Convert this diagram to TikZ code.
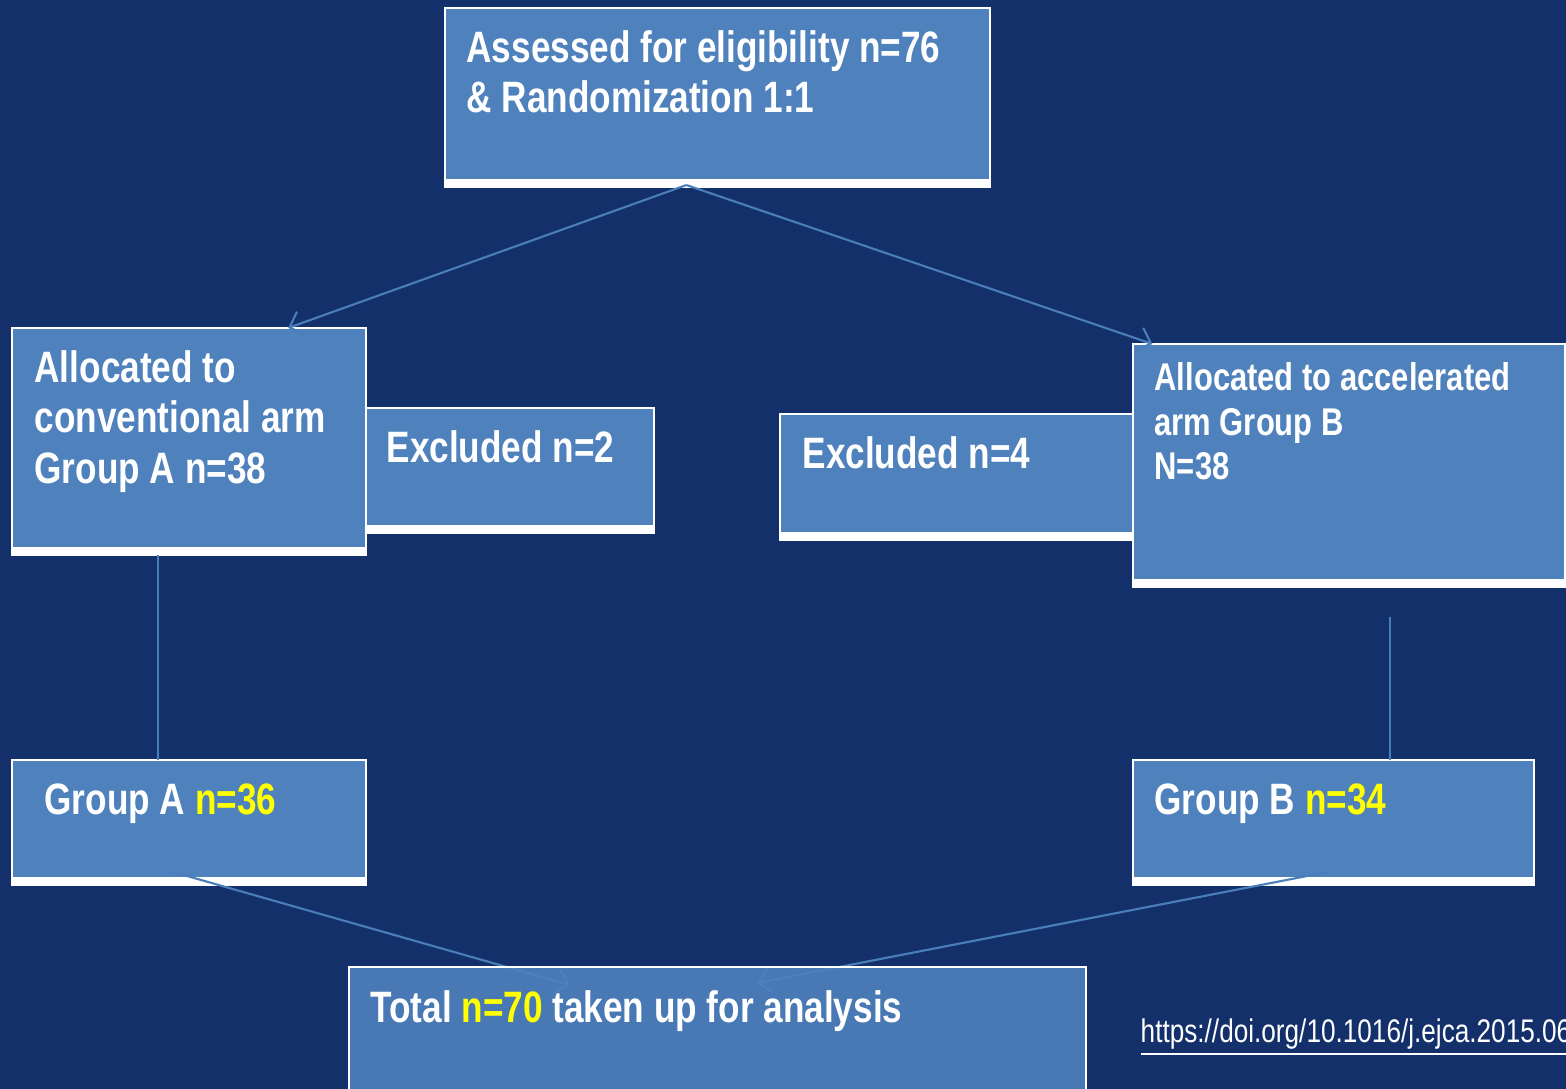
\documentclass[tikz,border=0pt]{standalone}
\usepackage{fontspec}
\setmainfont{Liberation Sans}[FakeStretch=0.8]
\usetikzlibrary{calc}
\usetikzlibrary{arrows.meta}
\usetikzlibrary{backgrounds}
\usepackage{xcolor}
\definecolor{bgblue}{HTML}{14306A}
\definecolor{boxblue}{HTML}{4F81BD}
\definecolor{lineblue}{HTML}{4A7EBB}
\definecolor{numyellow}{HTML}{FFFF00}
\tikzset{
  box/.style={draw=white, fill=boxblue, line width=0.7pt, inner sep=0, outer sep=0},
  txt/.style={text=white, anchor=north west, inner sep=0, align=left, font=\fontsize{12.5}{14.3}\selectfont\bfseries},
  conn/.style={draw=lineblue, line width=0.6pt},
  >={Straight Barb[length=3.5pt,width=7pt]}
}
\newcommand{\yel}[1]{\textcolor{numyellow}{#1}}

\begin{document}
\begin{tikzpicture}[x=0.01cm, y=-0.01cm]
\useasboundingbox (0,0) rectangle (1566,1089);
\begin{scope}[on background layer]
\fill[bgblue] (0,0) rectangle (1566,1089);
\end{scope}
% boxes
\node[box, minimum width=5.45cm, minimum height=1.79cm] (top) at (717.5,97.5) {};
\node[box, minimum width=3.54cm, minimum height=2.27cm] (allocA) at (189,441.5) {};
\node[box, minimum width=2.88cm, minimum height=1.25cm] (exclA) at (510,470.5) {};
\node[box, minimum width=3.53cm, minimum height=1.26cm] (exclB) at (956.5,477) {};
\node[box, minimum width=4.32cm, minimum height=2.43cm] (allocB) at (1349,465.5) {};
\node[box, minimum width=3.54cm, minimum height=1.25cm] (groupA) at (189,822.5) {};
\node[box, minimum width=4.01cm, minimum height=1.25cm] (groupB) at (1333.5,822.5) {};
\foreach \n in {top,allocA,exclA,exclB,allocB,groupA,groupB}
  \fill[white] (\n.south west) rectangle ([yshift=0.08cm]\n.south east);
% lines into the total box, it is drawn over their tips
\coordinate (endA) at (570,985);
\coordinate (endB) at (757,983);
\draw[conn, ->] ($(groupA.south west)!0.455!(groupA.south east)+(0,-13)$) -- (endA);
\draw[conn, ->] ($(groupB.south west)!0.485!(groupB.south east)+(0,-13)$) -- (endB);
\node[box, fill opacity=0.9, minimum width=7.37cm, minimum height=1.33cm] (total) at (717.5,1033.5) {};
% connectors
\draw[conn, ->] ($(top.south west)!0.443!(top.south east)+(0,-2)$) coordinate (split)
  -- ($(allocA.north west)!0.78!(allocA.north east)$);
\draw[conn, ->] (split) -- ($(allocB.north west)!0.045!(allocB.north east)$);
\draw[conn] ($(allocA.south west)!0.412!(allocA.south east)$) -- ($(groupA.north west)!0.412!(groupA.north east)$);
\coordinate (gapB) at ($(allocB.south west)!0.595!(allocB.south east)+(0,30)$);
\draw[conn] (gapB) -- (gapB |- groupB.north);
% texts
\node[txt] (topt) at ([shift={(21,22)}]top.north west) {Assessed for eligibility n=76\\\& Randomization 1:1};
\node[txt] (allocAt) at ([shift={(22,22)}]allocA.north west) {Allocated to\\conventional arm\\Group A n=38};
\node[txt] (exclAt) at ([shift={(20,22)}]exclA.north west) {Excluded n=2};
\node[txt] (exclBt) at ([shift={(22,22)}]exclB.north west) {Excluded n=4};
\node[txt, font=\fontsize{11}{12.7}\selectfont\bfseries] (allocBt) at ([shift={(21,18)}]allocB.north west) {Allocated to accelerated\\arm Group B\\N=38};
\node[txt] (groupAt) at ([shift={(32,23)}]groupA.north west) {Group A \yel{n=36}};
\node[txt] (groupBt) at ([shift={(21,23)}]groupB.north west) {Group B \yel{n=34}};
\node[txt] (totalt) at ([shift={(21,23)}]total.north west) {Total \yel{n=70} taken up for analysis};
\node[txt, font=\fontsize{9.3}{10}\selectfont] (doi) at (1140,1018) {\underline{https://doi.org/10.1016/j.ejca.2015.06}};
\end{tikzpicture}
\end{document}
